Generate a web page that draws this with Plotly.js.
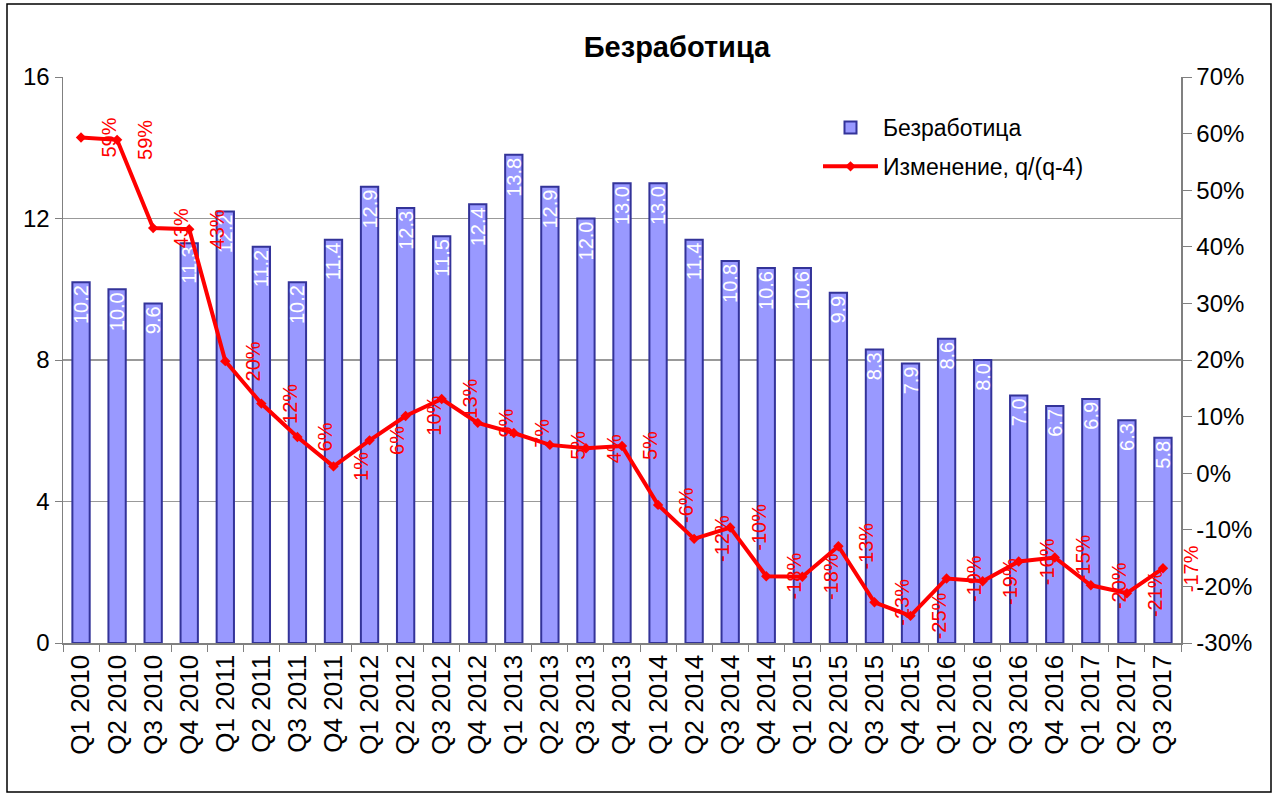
<!DOCTYPE html>
<html>
<head>
<meta charset="utf-8">
<script src="https://cdn.plot.ly/plotly-3.0.1.min.js"></script>
<style>html,body{margin:0;padding:0;background:#fff;}#chart{width:1280px;height:794px;}</style>
</head>
<body>
<div id="chart"></div>
<script>
const categories = ["Q1 2010","Q2 2010","Q3 2010","Q4 2010","Q1 2011","Q2 2011","Q3 2011","Q4 2011",
  "Q1 2012","Q2 2012","Q3 2012","Q4 2012","Q1 2013","Q2 2013","Q3 2013","Q4 2013",
  "Q1 2014","Q2 2014","Q3 2014","Q4 2014","Q1 2015","Q2 2015","Q3 2015","Q4 2015",
  "Q1 2016","Q2 2016","Q3 2016","Q4 2016","Q1 2017","Q2 2017","Q3 2017"];
const unemployment = [10.2,10.0,9.6,11.3,12.2,11.2,10.2,11.4,12.9,12.3,11.5,12.4,13.8,12.9,12.0,13.0,
  13.0,11.4,10.8,10.6,10.6,9.9,8.3,7.9,8.6,8.0,7.0,6.7,6.9,6.3,5.8];
const changeYoY = [59.3,58.9,43.3,43.1,19.8,12.3,6.4,1.2,5.8,10.1,13.1,8.9,7.1,5.0,4.4,4.8,
  -5.6,-11.6,-9.6,-18.2,-18.3,-12.9,-22.8,-25.2,-18.6,-19.1,-15.6,-14.9,-19.8,-21.2,-16.8];
const leftTicks = [0,4,8,12,16];
const rightTicks = [-30,-20,-10,0,10,20,30,40,50,60,70];

const L = 63, R = 1181, T = 77, B = 643, W = 1280, H = 794;
const pw = R - L, ph = B - T;

const barTrace = {
  type: 'bar', name: 'Безработица', x: categories, y: unemployment,
  yaxis: 'y', width: 0.48, legendgroup: 'a',
  marker: {color: '#9999FF', line: {color: '#333399', width: 2}},
  text: unemployment.map(v => v.toFixed(1)), textposition: 'inside', insidetextanchor: 'end',
  textangle: -90, constraintext: 'none', cliponaxis: false,
  textfont: {family: 'Liberation Sans, Arial, sans-serif', size: 20, color: '#ffffff'},
  hoverinfo: 'x+y'
};
const lineTrace = {
  type: 'scatter', mode: 'lines+markers', name: 'Изменение, q/(q-4)', x: categories, y: changeYoY,
  yaxis: 'y2', legendgroup: 'b',
  line: {color: '#FF0000', width: 4}, marker: {symbol: 'diamond', size: 8, color: '#FF0000'},
  cliponaxis: false
};

const annotations = categories.map((c, i) => ({
  x: c, y: changeYoY[i], xref: 'x', yref: 'y2', xshift: 28,
  text: Math.round(changeYoY[i]) + '%', showarrow: false, textangle: -90,
  font: {family: 'Liberation Sans, Arial, sans-serif', size: 20, color: '#FF0000'}
}));

const px = v => (v - L) / pw;
const py = v => (B - v) / ph;

const layout = {
  width: W, height: H,
  margin: {l: L, r: W - R, t: T, b: H - B, pad: 0},
  paper_bgcolor: '#ffffff', plot_bgcolor: '#ffffff',
  font: {family: 'Liberation Sans, Arial, sans-serif', color: '#000000'},
  title: {text: '<b>Безработица</b>', x: 677 / W, xref: 'container', xanchor: 'center',
    y: 1 - 47 / H, yref: 'container', yanchor: 'middle',
    font: {size: 29, color: '#000000', family: 'Liberation Sans, Arial, sans-serif'}},
  showlegend: true,
  legend: {x: px(818), y: py(106), xanchor: 'left', yanchor: 'top', bgcolor: 'rgba(0,0,0,0)',
    font: {size: 23}, itemwidth: 55, traceorder: 'grouped', tracegroupgap: 6},
  bargap: 0.52,
  xaxis: {type: 'category', tickangle: -90, ticks: 'outside', ticklen: 7, tickcolor: '#808080',
    tickson: 'boundaries', showline: true, linecolor: '#808080', linewidth: 1.5,
    tickfont: {size: 26}, showgrid: false, range: [-0.5, categories.length - 0.5]},
  yaxis: {range: [0, 16], tickvals: leftTicks, ticks: 'outside', ticklen: 7, tickcolor: '#808080',
    showline: true, linecolor: '#808080', linewidth: 1.5, showgrid: true, gridcolor: '#999999', gridwidth: 1.5,
    zeroline: false, tickfont: {size: 24}},
  yaxis2: {range: [-30, 70], tickvals: rightTicks, ticktext: rightTicks.map(v => v + '%'),
    overlaying: 'y', side: 'right', ticks: 'outside', ticklen: 9, tickcolor: '#808080',
    showline: true, linecolor: '#808080', linewidth: 1.5, showgrid: false, zeroline: false,
    tickfont: {size: 24}},
  annotations: annotations,
  shapes: [{type: 'rect', xref: 'paper', yref: 'paper', x0: px(7), x1: px(1271), y0: py(792), y1: py(4),
    line: {color: '#000000', width: 1.5}, fillcolor: 'rgba(0,0,0,0)', layer: 'below'}]
};

Plotly.newPlot('chart', [barTrace, lineTrace], layout, {displayModeBar: false, staticPlot: true});
</script>
</body>
</html>
